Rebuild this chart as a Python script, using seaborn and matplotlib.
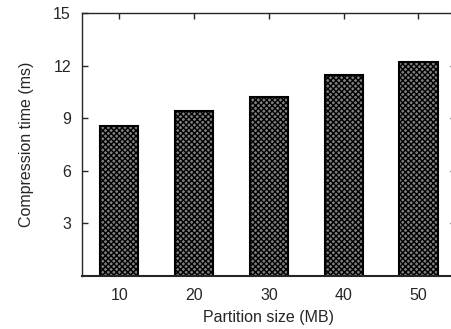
import pandas as pd
import matplotlib
matplotlib.use("Agg")
import matplotlib.pyplot as plt
import seaborn as sns

# data
partition_sizes = ["10", "20", "30", "40", "50"]
compression_ms = [8.55, 9.42, 10.2, 11.45, 12.2]
y_ticks = [3, 6, 9, 12, 15]

df = pd.DataFrame({"size": partition_sizes, "time": compression_ms})

sns.set_style("ticks")
plt.rcParams["font.family"] = ["Liberation Sans", "DejaVu Sans"]
plt.rcParams["hatch.linewidth"] = 1.0
plt.rcParams["hatch.color"] = "black"

fig = plt.figure(figsize=(4.51, 3.29), dpi=100)
# right edge of the axes runs past the image, like the reference
ax = fig.add_axes([0.1818, 0.1611, 0.829, 0.7994])

sns.barplot(data=df, x="size", y="time", ax=ax, width=0.51,
            color="0.5", edgecolor="black", linewidth=1.5, saturation=1)
for p in ax.patches:
    p.set_hatch("xxxxxx")

ax.set_xlim(-0.5, 4.5)
ax.set_ylim(0, 15)
ax.set_yticks(y_ticks)
ax.set_yticklabels([str(t) for t in y_ticks], fontsize=11.5)
ax.tick_params(axis="x", labelsize=11.5, direction="in", top=True, bottom=False,
               length=4, width=1, pad=9)
ax.tick_params(axis="y", direction="in", left=True, right=True, length=4, width=1, pad=8)
ax.set_xlabel("Partition size (MB)", fontsize=11.5, labelpad=5)
ax.set_ylabel("Compression time (ms)", fontsize=11.5, labelpad=14)

for side in ["top", "left", "right"]:
    ax.spines[side].set_linewidth(1.0)
ax.spines["bottom"].set_linewidth(1.5)

fig.savefig("out.png", dpi=100)
